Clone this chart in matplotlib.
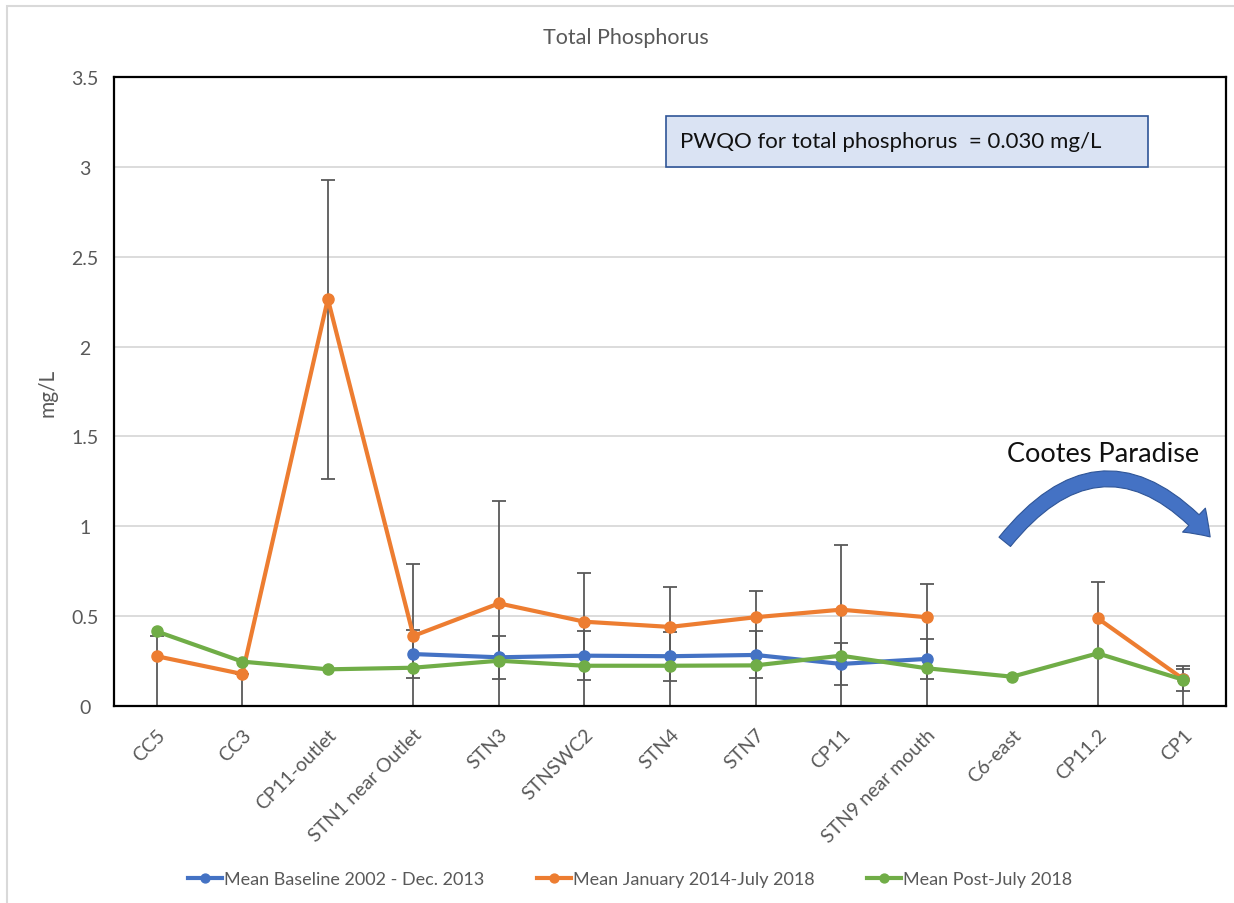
import numpy as np
import matplotlib as mpl
mpl.use("Agg")
from matplotlib import pyplot as plt
from matplotlib.patches import Rectangle, FancyArrowPatch

mpl.rcParams.update({
    "font.family": ["Lato", "DejaVu Sans"],
})

# stations along the x axis
stations = ["CC5", "CC3", "CP11-outlet", "STN1 near Outlet", "STN3", "STNSWC2",
            "STN4", "STN7", "CP11", "STN9 near mouth", "C6-east", "CP11.2", "CP1"]

nan = np.nan
# Mean Baseline 2002 - Dec. 2013
baseline = [nan, nan, nan, 0.289, 0.271, 0.280, 0.277, 0.284, 0.234, 0.262, nan, nan, 0.150]
baseline_lo = [0, 0, 0, 0.135, 0.120, 0.138, 0.137, 0.130, 0.115, 0.112, 0, 0, 0.300]
baseline_hi = [0, 0, 0, 0.135, 0.120, 0.138, 0.137, 0.135, 0.115, 0.112, 0, 0, 0.056]

# Mean January 2014-July 2018
mid = [0.277, 0.178, 2.265, 0.390, 0.571, 0.469, 0.440, 0.494, 0.536, 0.494, nan, 0.488, 0.150]
mid_lo = [0.300, 0.200, 1.000, 0.450, 0.600, 0.500, 0.500, 0.550, 0.600, 0.550, 0, 0.550, 0.065]
mid_hi = [0.113, 0.000, 0.664, 0.400, 0.568, 0.269, 0.220, 0.148, 0.360, 0.186, 0, 0.204, 0.070]

# Mean Post-July 2018
post = [0.415, 0.247, 0.204, 0.213, 0.252, 0.224, 0.224, 0.226, 0.280, 0.210, 0.163, 0.293, 0.146]

grey = "#595959"
blue = "#4472c4"
orange = "#ed7d31"
green = "#70ad47"

W, H = 1234, 904
fig = plt.figure(figsize=(W / 100, H / 100), dpi=100)
ax = fig.add_axes([114 / W, 1 - 707 / H, (1226 - 114) / W, (707 - 78) / H])

x = np.arange(len(stations))

# error bars sit behind the lines
ax.errorbar(x, baseline, yerr=[baseline_lo, baseline_hi], fmt="none",
            ecolor=grey, elinewidth=1.3, capsize=5, capthick=1.3, zorder=2)
ax.errorbar(x, mid, yerr=[mid_lo, mid_hi], fmt="none",
            ecolor=grey, elinewidth=1.3, capsize=5, capthick=1.3, zorder=2)

ax.plot(x, baseline, color=blue, lw=3, marker="o", ms=8,
        label="Mean Baseline 2002 - Dec. 2013", zorder=3)
ax.plot(x, mid, color=orange, lw=3, marker="o", ms=8,
        label="Mean January 2014-July 2018", zorder=4)
ax.plot(x, post, color=green, lw=3, marker="o", ms=8,
        label="Mean Post-July 2018", zorder=5)

ax.set_xlim(-0.5, len(stations) - 0.5)
ax.set_ylim(0, 3.5)
ax.set_yticks(np.arange(0, 3.51, 0.5))
ax.set_yticklabels(["0", "0.5", "1", "1.5", "2", "2.5", "3", "3.5"])
ax.set_xticks(x)
ax.set_xticklabels(stations, rotation=45, ha="right", rotation_mode="anchor")
ax.tick_params(length=0, colors=grey, labelsize=14)
ax.tick_params(axis="x", pad=14)
ax.tick_params(axis="y", pad=21)
for lab in ax.get_yticklabels():
    lab.set_ha("center")
ax.grid(axis="y", color="#d9d9d9", lw=1.3)
ax.set_axisbelow(True)
for s in ax.spines.values():
    s.set_color("black")
    s.set_linewidth(1.6)

ax.set_ylabel("mg/L", color=grey, fontsize=15, labelpad=10)

fig.text(626 / W, 1 - 38 / H, "Total Phosphorus", ha="center", va="center",
         color=grey, fontsize=15.5)

# PWQO note box
fig.patches.append(Rectangle((666 / W, 1 - 168 / H), (1148 - 666) / W, (168 - 117) / H,
                             transform=fig.transFigure, facecolor="#dae3f3",
                             edgecolor="#2f5597", lw=1.2, zorder=5))
fig.text(680 / W, 1 - 142 / H, "PWQO for total phosphorus  = 0.030 mg/L",
         ha="left", va="center", fontsize=16, color="#111111", zorder=6)

# Cootes Paradise arrow
fig.text(1103 / W, 1 - 455 / H, "Cootes Paradise", ha="center", va="center",
         fontsize=19.5, color="#111111")
arrow = FancyArrowPatch((1003 / W, 1 - 545 / H), (1212 / W, 1 - 540 / H),
                        transform=fig.transFigure,
                        connectionstyle="arc3,rad=-0.6",
                        arrowstyle="simple,head_length=0.6,head_width=0.85,tail_width=0.38",
                        mutation_scale=28, facecolor=blue, edgecolor="#2f5597", lw=0.8)
fig.patches.append(arrow)

# outer chart border
fig.patches.append(Rectangle((7 / W, -0.01), 1.02, 1 - 7 / H + 0.01,
                             transform=fig.transFigure, fill=False,
                             edgecolor="#d9d9d9", lw=1.5))

leg = fig.legend(loc="center", bbox_to_anchor=(630 / W, 1 - 880 / H), ncol=3,
                 frameon=False, fontsize=13, handlelength=1.9, handletextpad=0.1,
                 columnspacing=2.9, markerscale=0.8)
for t in leg.get_texts():
    t.set_color(grey)

fig.savefig("out.png", dpi=100)
